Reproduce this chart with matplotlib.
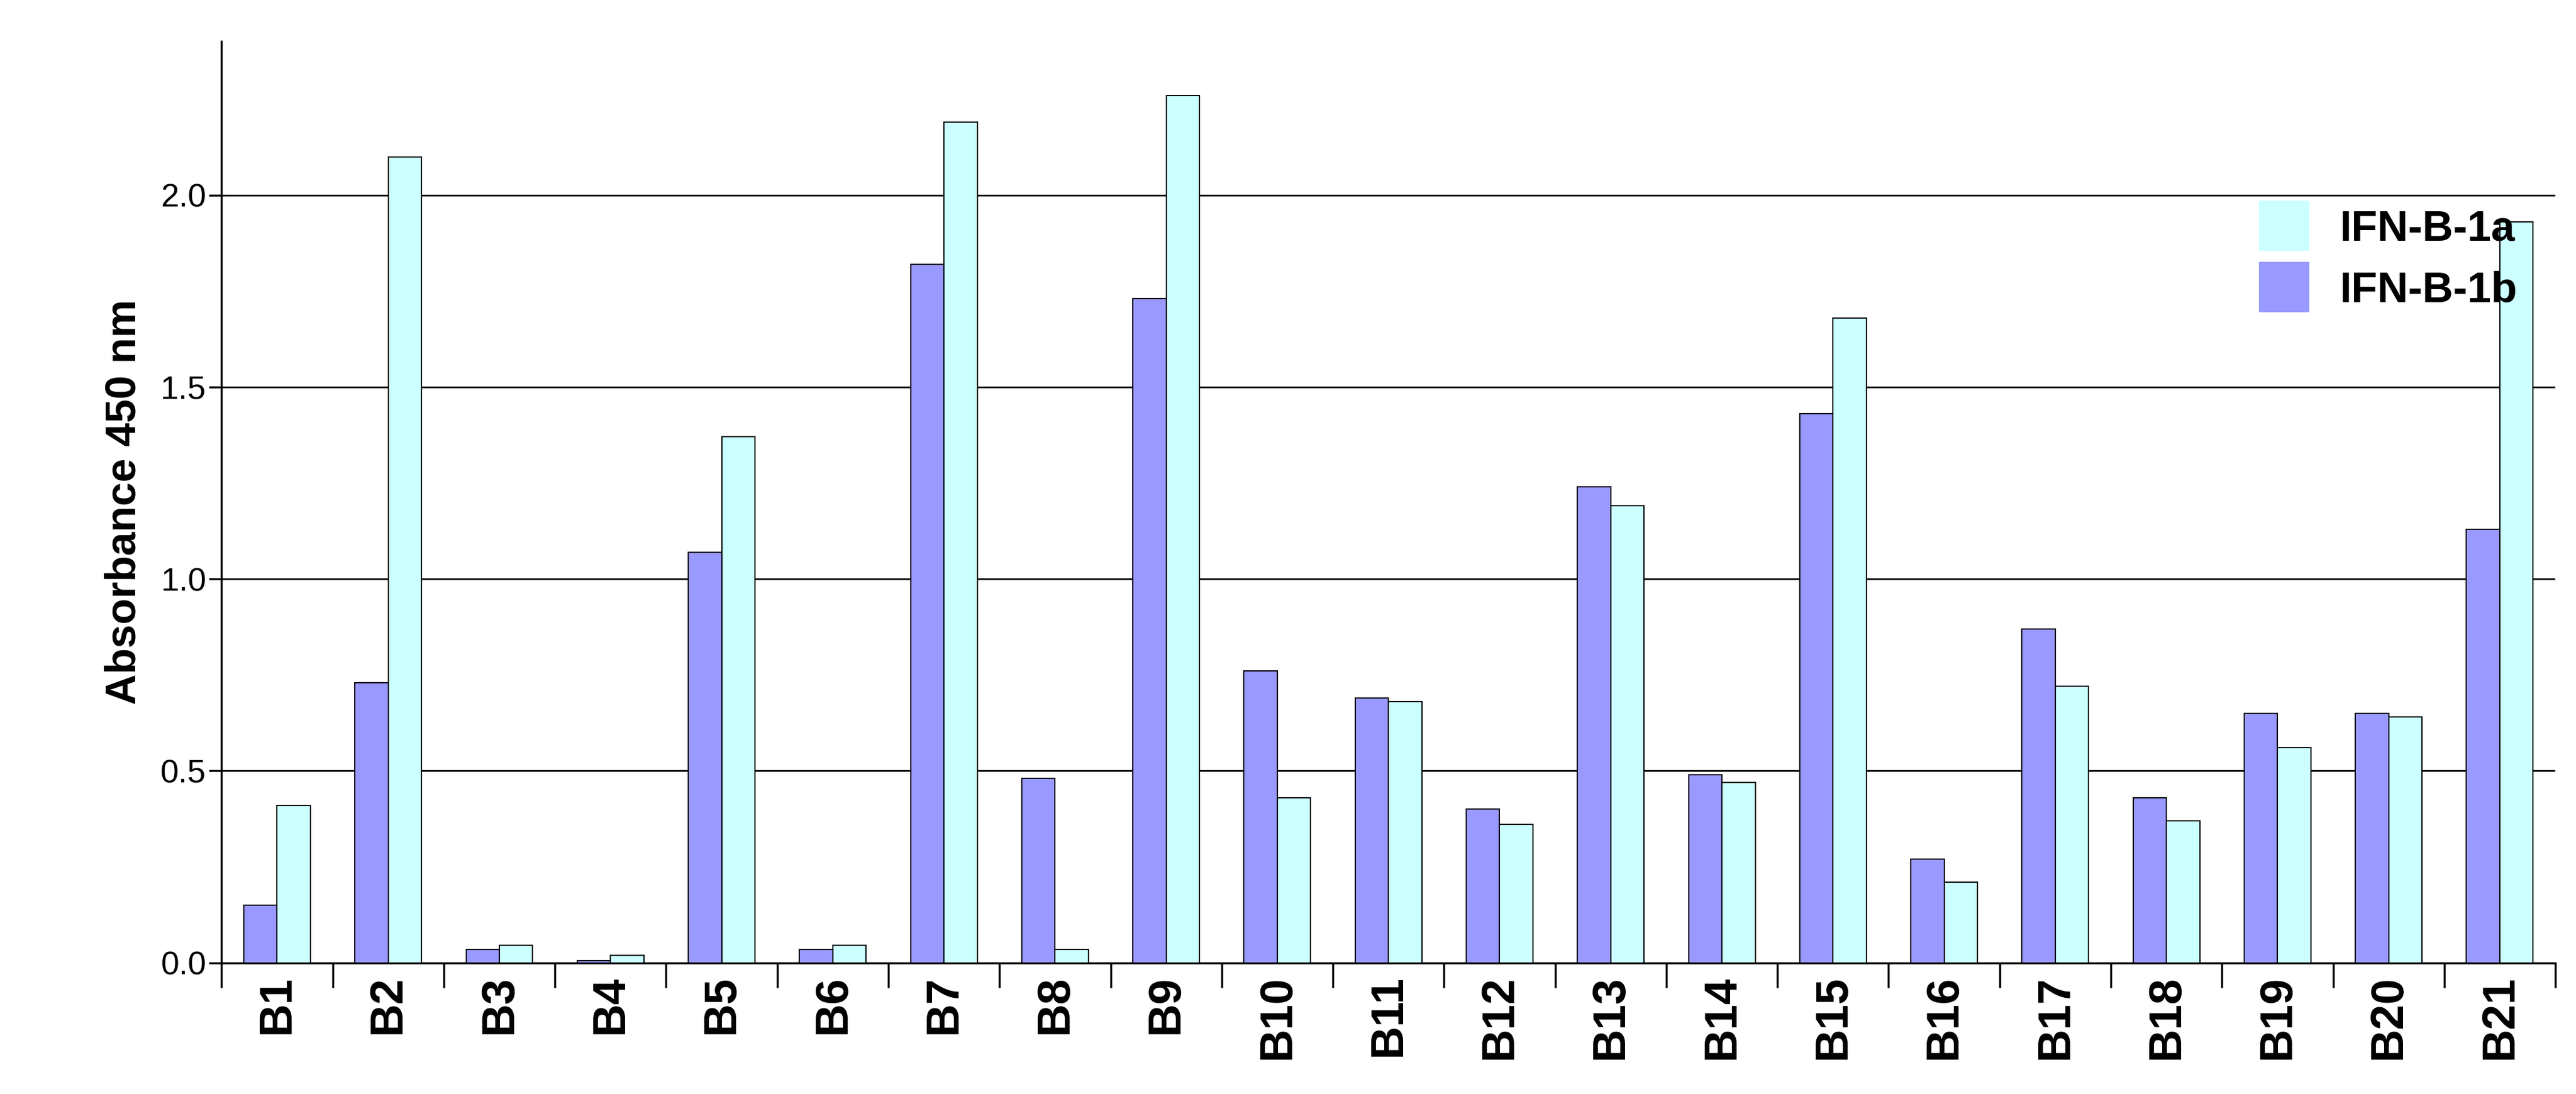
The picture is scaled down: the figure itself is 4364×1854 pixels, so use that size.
import matplotlib
matplotlib.use("Agg")
import matplotlib.pyplot as plt
import numpy as np
from matplotlib.lines import Line2D

plt.rcParams['font.family'] = ['Liberation Sans', 'DejaVu Sans']

categories = [f"B{i}" for i in range(1, 22)]
ifn_1b = [0.15, 0.73, 0.035, 0.005, 1.07, 0.035, 1.82, 0.48, 1.73, 0.76, 0.69, 0.40, 1.24, 0.49, 1.43, 0.27, 0.87, 0.43, 0.65, 0.65, 1.13]
ifn_1a = [0.41, 2.10, 0.045, 0.02, 1.37, 0.045, 2.19, 0.035, 2.26, 0.43, 0.68, 0.36, 1.19, 0.47, 1.68, 0.21, 0.72, 0.37, 0.56, 0.64, 1.93]

fig = plt.figure(figsize=(43.64, 18.54), dpi=100)
ax = fig.add_axes([0.086, 0.12, 0.906, 0.842])
x = np.arange(len(categories))
w = 0.3
c1b, c1a = "#9999FF", "#CCFFFF"
ax.bar(x - w/2, ifn_1b, w, color=c1b, edgecolor="black", linewidth=1.5, zorder=3)
ax.bar(x + w/2, ifn_1a, w, color=c1a, edgecolor="black", linewidth=1.5, zorder=3)
ax.set_xlim(-0.5, len(categories) - 0.5)
ax.set_ylim(0, 2.4)
ax.set_yticks([0, 0.5, 1.0, 1.5, 2.0])
ax.set_yticklabels(["0.0", "0.5", "1.0", "1.5", "2.0"], fontsize=40)
ax.yaxis.grid(True, color="black", linewidth=2, zorder=0)
for s in ["top", "right"]:
    ax.spines[s].set_visible(False)
ax.spines["left"].set_linewidth(2.5)
ax.spines["bottom"].set_linewidth(2.5)
ax.set_xticks(x)
ax.set_xticklabels(categories, rotation=90, fontsize=56, fontweight="bold")
ax.tick_params(axis="x", length=0, pad=15)
ax.set_xticks(np.arange(-0.5, len(categories)), minor=True)
ax.tick_params(axis="x", which="minor", length=30, width=2.5)
ax.tick_params(axis="y", length=15, width=2.5)
ax.set_ylabel("Absorbance 450 nm", fontsize=52, fontweight="bold", labelpad=20)

handles = [Line2D([], [], marker="s", linestyle="", markersize=60, markerfacecolor=c1a, markeredgecolor=c1a),
           Line2D([], [], marker="s", linestyle="", markersize=60, markerfacecolor=c1b, markeredgecolor=c1b)]
ax.legend(handles, ["IFN-B-1a", "IFN-B-1b"], loc="upper right", bbox_to_anchor=(1.0, 0.86),
          frameon=False, prop={"size": 52, "weight": "bold"}, handletextpad=0.3, labelspacing=0.5)
fig.savefig("out.png", dpi=100)
